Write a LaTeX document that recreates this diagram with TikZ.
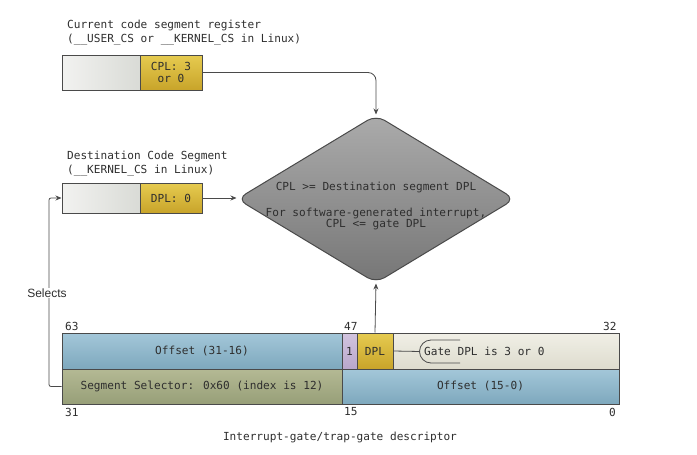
\documentclass[tikz,border=0pt]{standalone}
\usepackage{fontspec}
\setmainfont{Liberation Sans}
\newfontfamily\codefont{DejaVu Sans Mono}
\usetikzlibrary{shapes.geometric,arrows.meta}
\definecolor{edge}{HTML}{4A4A4A}
\definecolor{txt}{HTML}{2E2E2E}
\definecolor{lightA}{HTML}{F2F2F0}
\definecolor{lightB}{HTML}{D9DBD6}
\definecolor{yelA}{HTML}{E6CB50}
\definecolor{yelB}{HTML}{C8A42A}
\definecolor{bluA}{HTML}{A3C7D9}
\definecolor{bluB}{HTML}{7EA8BD}
\definecolor{oliA}{HTML}{B4B994}
\definecolor{oliB}{HTML}{979F78}
\definecolor{lavA}{HTML}{D2C4DF}
\definecolor{lavB}{HTML}{B9A7CB}
\definecolor{begA}{HTML}{F0EFE6}
\definecolor{begB}{HTML}{DEDCCE}
\definecolor{diaA}{HTML}{ABABAB}
\definecolor{diaB}{HTML}{767676}
\tikzset{
  code/.style={font=\codefont\fontsize{11.1}{12.5}\selectfont, text=txt},
  cell/.style={draw=edge, line width=1pt, inner sep=0pt, code, anchor=center},
  light/.style={cell, left color=lightA, right color=lightB},
  yel/.style={cell, top color=yelA, bottom color=yelB},
  blu/.style={cell, top color=bluA, bottom color=bluB},
  oli/.style={cell, top color=oliA, bottom color=oliB},
  lav/.style={cell, top color=lavA, bottom color=lavB},
  beige/.style={cell, top color=begA, bottom color=begB},
  lbl/.style={code, anchor=west, inner sep=0pt},
  conn/.style={draw=edge, line width=0.8pt},
  arr/.style={conn, -{Stealth[length=6pt,width=5pt]}},
}
\begin{document}
\begin{tikzpicture}[x=1pt,y=-1pt]
\useasboundingbox[fill=white] (0,0) rectangle (697,455);

% top register
\node[lbl] (t1) at (67,25) {Current code segment register};
\node[lbl] (t2) at (67,40) {(\_\_USER\_CS or \_\_KERNEL\_CS in Linux)};
\node[light, minimum width=78pt, minimum height=35pt] (curL) at (101,72.5) {};
\node[yel, minimum width=62pt, minimum height=35pt, align=center] (cpl) at (171,72.5) {CPL: 3\\[-1pt]or 0};

% destination
\node[lbl] (d1) at (67,156) {Destination Code Segment};
\node[lbl] (d2) at (67,171) {(\_\_KERNEL\_CS in Linux)};
\node[light, minimum width=78pt, minimum height=30pt] (dstL) at (101,198) {};
\node[yel, minimum width=62pt, minimum height=30pt] (dpl0) at (171,198) {DPL: 0};

% diamond
\node[diamond, draw=edge, line width=1pt, rounded corners=10pt, inner sep=0pt,
      minimum width=278pt, minimum height=168pt, top color=diaA, bottom color=diaB] (dia) at (376,199) {};
\node[code, align=center] (diatext) at (376,206)
  {CPL >= Destination segment DPL\\[13pt]For software-generated interrupt,\\[-1pt]CPL <= gate DPL};

% descriptor
\node[blu, minimum width=280pt, minimum height=36pt] (off1) at (202,351) {Offset (31-16)};
\node[lav, minimum width=15pt, minimum height=36pt] (one) at (349.5,351) {1};
\node[yel, minimum width=36pt, minimum height=36pt] (dplg) at (375,351) {DPL};
\node[beige, minimum width=226pt, minimum height=36pt] (gate) at (506,351) {};
\node[oli, minimum width=280pt, minimum height=35pt] (sel) at (202,386.5) {Segment Selector: 0x60 (index is 12)};
\node[blu, minimum width=277pt, minimum height=35pt] (off0) at (480.5,386.5) {Offset (15-0)};
\node[lbl] (gtext) at (424,351) {Gate DPL is 3 or 0};
\coordinate (brk) at (420,351.5);
\draw[conn] (dplg.east) -- (brk);
\draw[conn] (460,340) -- (431,340) arc[start angle=90, end angle=270, radius=11.5pt] -- (460,363);

% bit numbers
\node[lbl] (b63) at (65,326) {63};
\node[lbl] (b47) at (344,326) {47};
\node[lbl] (b32) at (603,326) {32};
\node[lbl] (b31) at (65,412) {31};
\node[lbl] (b15) at (344,412) {15};
\node[lbl] (b0) at (609,412) {0};
\node[code] (cap) at (340,437) {Interrupt-gate/trap-gate descriptor};

% connectors
\draw[arr, rounded corners=8pt] (cpl.east) -| (dia.north);
\draw[arr] (dpl0.east) -- (dpl0.east -| dia.west);
\draw[arr] (dplg.north) -- (dia.south);
\coordinate (selcorner) at (49,386.5);
\draw[arr, rounded corners=2pt] (sel.west) -- (selcorner) |- (dstL.west);
\node[fill=white, inner sep=1pt, font=\fontsize{12}{13}\selectfont, text=txt] (selects) at (47,293) {Selects};
\end{tikzpicture}
\end{document}
